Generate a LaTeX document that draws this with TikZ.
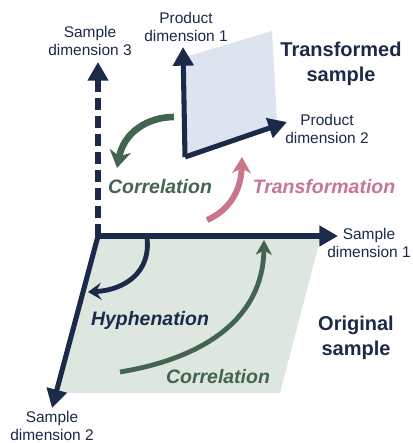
\documentclass[tikz,border=0pt]{standalone}
\usepackage{fontspec}
\setmainfont{Liberation Sans}
\usetikzlibrary{arrows.meta}

\definecolor{navyax}{RGB}{27,42,72}
\definecolor{corrgreen}{RGB}{67,100,78}
\definecolor{transpink}{RGB}{200,118,140}
\definecolor{origfill}{RGB}{221,230,223}
\definecolor{transfill}{RGB}{222,227,240}

\tikzset{
  axis/.style={color=navyax, line width=3.8pt, -{Triangle[length=14pt,width=15pt]}},
  axislab/.style={inner sep=0.75pt, align=center, text=navyax, font=\fontsize{11.6}{13.5}\selectfont},
  samplelab/.style={inner sep=0.75pt, align=center, text=navyax, font=\fontsize{15}{18.5}\selectfont\bfseries},
  oplab/.style={inner sep=0.75pt, font=\fontsize{14.6}{17}\selectfont\bfseries\itshape}
}

\begin{document}
\begin{tikzpicture}[x=0.75pt,y=0.75pt,yscale=-1,xscale=1]
\useasboundingbox (0,0) rectangle (413,443); %diagram is 413 by 443

% axis end points
\coordinate (O) at (98,236);
\coordinate (sd1) at (338,236);
\coordinate (sd2) at (52,408);
\coordinate (sd3) at (98,62);
\coordinate (P) at (185,157);
\coordinate (pd1) at (183,47);
\coordinate (pd2) at (287,122);

%Shape: Original sample plane
\fill [origfill] (O) -- (321,236) -- (280,393) -- (58,393) -- cycle ;
%Shape: Transformed sample plane
\fill [transfill] (P) -- (185,57) -- (272,31) -- (277,122) -- cycle ;

%Straight Lines: sample axes
\draw [axis] (O) -- (sd1) ;
\draw [axis] (O) -- (sd2) ;
\draw [axis, dash pattern=on 9pt off 4.5pt] (O) -- (sd3) ;
%Straight Lines: product axes
\draw [axis] (P) -- (pd1) ;
\draw [axis] (P) -- (pd2) ;

% curve end points
\coordinate (c1s) at (174,117);
\coordinate (c1e) at (117,168);
\coordinate (tfs) at (207,220);
\coordinate (tfe) at (242,157);
\coordinate (hys) at (147,238);
\coordinate (hye) at (88,292);
\coordinate (c2s) at (120,372);
\coordinate (c2e) at (264,240);

%Curve Lines: correlation (top)
\draw [color=corrgreen, line width=5pt, -{Stealth[length=13pt,width=16pt,inset=4pt]}] (c1s) .. controls (148,117) and (124,132) .. (c1e) ;
%Curve Lines: transformation
\draw [color=transpink, line width=4.5pt, -{Stealth[length=12pt,width=14pt,inset=3.5pt]}] (tfs) .. controls (230,210) and (241,190) .. (tfe) ;
%Curve Lines: hyphenation
\draw [color=navyax, line width=3.6pt, -{Stealth[length=10pt,width=13pt,inset=4pt]}] (hys) .. controls (151,272) and (125,290) .. (hye) ;
%Curve Lines: correlation (bottom)
\draw [color=corrgreen, line width=3.6pt, -{Stealth[length=11pt,width=12pt,inset=3pt]}] (c2s) .. controls (205,358) and (263,318) .. (c2e) ;

% Text Node
\node (sd3lab) [axislab] at (90,41) {Sample\\dimension 3};
% Text Node
\node (pd1lab) [axislab] at (186,27) {Product\\dimension 1};
% Text Node
\node (pd2lab) [axislab] at (327,129) {Product\\dimension 2};
% Text Node
\node (sd1lab) [axislab] at (369,243) {Sample\\dimension 1};
% Text Node
\node (sd2lab) [axislab] at (52,426) {Sample\\dimension 2};
% Text Node
\node (translab) [samplelab] at (341,64) {Transformed\\sample};
% Text Node
\node (origlab) [samplelab] at (356,338) {Original\\sample};
% Text Node
\node (corr1lab) [oplab, text=corrgreen] at (160,187) {Correlation};
% Text Node
\node (tflab) [oplab, text=transpink] at (324,187) {Transformation};
% Text Node
\node (hylab) [oplab, text=navyax] at (150,320) {Hyphenation};
% Text Node
\node (corr2lab) [oplab, text=corrgreen] at (218,377) {Correlation};

\end{tikzpicture}
\end{document}
